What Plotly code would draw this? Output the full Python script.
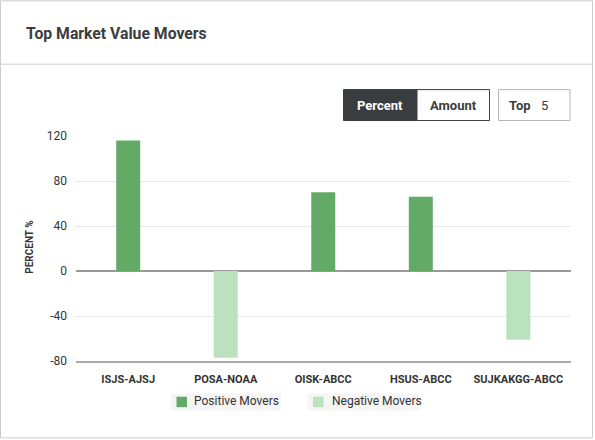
import plotly.graph_objects as go

# ---- data ----
categories = ["ISJS-AJSJ", "POSA-NOAA", "OISK-ABCC", "HSUS-ABCC", "SUJKAKGG-ABCC"]
values = [116, -77, 70, 66, -61]
series_names = ["Positive Movers", "Negative Movers"]
y_ticks = [-80, -40, 0, 40, 80, 120]
y_tick_labels = ["-80", "-40", "0", "40", "80", "120"]
title_text = "Top Market Value Movers"
y_title = "PERCENT %"
toggle_labels = ["Percent", "Amount"]
top_label = "Top"
top_value = "5"

POS_COLOR = "#64aa67"
NEG_COLOR = "#bbe2bf"
DARK = "#3a3d40"
TEXT = "#333333"
FONT = "Roboto"

W, H = 595, 440
L, R, T, B = 76, 571, 136, 361.5


def px(x):
    return (x - L) / (R - L)


def py(y):
    return (B - y) / (B - T)


pos_vals = [v if v > 0 else None for v in values]
neg_vals = [v if v < 0 else None for v in values]

fig = go.Figure()
fig.add_trace(go.Bar(x=categories, y=pos_vals, name=series_names[0], width=0.246,
                     marker=dict(color=POS_COLOR, line=dict(width=0)), showlegend=False))
fig.add_trace(go.Bar(x=categories, y=neg_vals, name=series_names[1], width=0.246,
                     marker=dict(color=NEG_COLOR, line=dict(width=0)), showlegend=False))

shapes = []
annotations = []


def rect(x0, y0, x1, y1, fill="rgba(0,0,0,0)", line_color=None, lw=1, layer="above"):
    shapes.append(dict(type="rect", xref="paper", yref="paper",
                       x0=px(x0), x1=px(x1), y0=py(y1), y1=py(y0),
                       fillcolor=fill, layer=layer,
                       line=dict(color=line_color or "rgba(0,0,0,0)", width=lw if line_color else 0)))


def text(x, y, s, size=12, color=TEXT, weight="normal", xanchor="left", angle=0):
    annotations.append(dict(xref="paper", yref="paper", x=px(x), y=py(y), text=s,
                            showarrow=False, xanchor=xanchor, yanchor="middle",
                            textangle=angle,
                            font=dict(family=FONT, size=size, color=color, weight=weight)))


# card border & header separator
rect(0.5, 0.5, 592.5, 438.5, line_color="#cccccc")
shapes.append(dict(type="line", xref="paper", yref="paper", x0=px(0.5), x1=px(592.5),
                   y0=py(64), y1=py(64), line=dict(color="#cccccc", width=1)))
text(24, 33, title_text, size=15.75, color=DARK, weight="bold")

# toggle buttons
rect(343.5, 89.5, 417, 120.5, fill=DARK, line_color=DARK)
rect(417, 89.5, 489.5, 120.5, fill="white", line_color=DARK)
text(380.3, 105, toggle_labels[0], size=13, color="white", weight="bold", xanchor="center")
text(453.3, 105, toggle_labels[1], size=13, color=DARK, weight="bold", xanchor="center")
rect(498.5, 89.5, 570, 120.5, fill="white", line_color="#b5b5b5")
text(506.5, 105, top_label, size=13, color=DARK, weight="bold")
text(538.5, 105, top_value, size=13, color=DARK)

# y-axis title
text(30, 248, y_title, size=10, color=TEXT, weight="bold", xanchor="center", angle=-90)

# custom legend
legend_boxes = [(171, 281, 176.5, 192), (307.5, 419, 313, 329.5)]
for (bx0, bx1, sx, tx), name, col in zip(legend_boxes, series_names, [POS_COLOR, NEG_COLOR]):
    rect(bx0, 394, bx1, 411, fill="#f5f5f5")
    rect(sx, 397.3, sx + 10.5, 407.8, fill=col)
    text(tx, 402, name, size=12, color=TEXT)

fig.update_layout(
    width=W, height=H, autosize=False,
    margin=dict(l=L, r=W - R, t=T, b=H - B, pad=0),
    paper_bgcolor="white", plot_bgcolor="white",
    barmode="overlay",
    font=dict(family=FONT, color=TEXT),
    shapes=shapes, annotations=annotations,
    showlegend=False,
    xaxis=dict(type="category", range=[-0.535, 4.54], showgrid=False,
               showline=True, linecolor="#aaaaaa", linewidth=1.5,
               ticks="", ticklabelstandoff=7,
               tickfont=dict(family=FONT, size=11, color=TEXT, weight="bold"),
               fixedrange=True),
    yaxis=dict(range=[-80, 120], tickvals=y_ticks, ticktext=y_tick_labels,
               showgrid=True, gridcolor="#e8e8e8",
               gridwidth=1, zeroline=True, zerolinecolor="#999999", zerolinewidth=1.5,
               showline=False, ticks="", ticklabelstandoff=8,
               tickfont=dict(family=FONT, size=12, color=TEXT), fixedrange=True),
)

fig.write_html("out.html", config={"displayModeBar": False})
